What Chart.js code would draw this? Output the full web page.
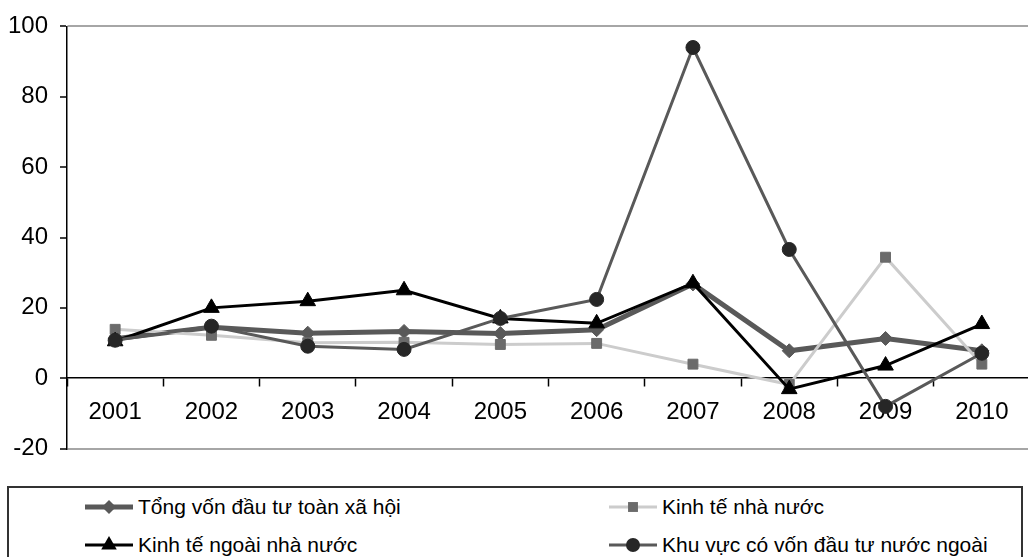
<!DOCTYPE html>
<html>
<head>
<meta charset="utf-8">
<script src="https://cdn.jsdelivr.net/npm/chart.js@4/dist/chart.umd.min.js"></script>
<style>
    html, body { margin: 0; padding: 0; background: #fff; overflow: hidden; }
    body { width: 1028px; height: 557px; position: relative; font-family: "Liberation Sans", Arial, sans-serif; }
    #wrap { position: absolute; left: 0; top: 0; width: 1040px; height: 475px; }
    #legend { position: absolute; left: 7px; top: 486px; width: 1016px; height: 100px; border: 2px solid #333; box-sizing: border-box; }
    .item { position: absolute; height: 24px; display: flex; align-items: center; font-size: 21px; color: #000; white-space: nowrap; }
    .item canvas { margin-right: 3px; }
</style>
</head>
<body>
<div id="wrap"><canvas id="lineChart"></canvas></div>
<div id="legend"></div>
<script>
// Tốc độ tăng vốn đầu tư (%), 2001-2010
const years = ["2001", "2002", "2003", "2004", "2005", "2006", "2007", "2008", "2009", "2010"];
const seriesNames = [
    "Tổng vốn đầu tư toàn xã hội",
    "Kinh tế nhà nước",
    "Kinh tế ngoài nhà nước",
    "Khu vực có vốn đầu tư nước ngoài",
];
const tongVon = [11.2, 14.5, 12.8, 13.3, 12.7, 13.8, 26.8, 7.8, 11.3, 7.8];
const nhaNuoc = [13.9, 12.2, 10.1, 10.2, 9.6, 9.9, 4.0, -1.8, 34.4, 4.0];
const ngoaiNhaNuoc = [10.5, 20.0, 21.9, 25.0, 17.0, 15.6, 27.0, -3.1, 3.6, 15.4];
const nuocNgoai = [10.8, 14.8, 9.1, 8.2, 17.0, 22.4, 94.0, 36.6, -8.0, 7.1];
const yTicks = { min: -20, max: 100, step: 20 };

document.addEventListener("DOMContentLoaded", function () {
    const ctx = document.getElementById("lineChart").getContext("2d");

    const styles = [
        { line: "#595959", width: 5, point: "#595959", pointStyle: "rectRot", radius: 7, order: 4 },
        { line: "#cccccc", width: 3, point: "#6b6b6b", pointStyle: "rect", radius: 7, order: 3 },
        { line: "#000000", width: 3, point: "#000000", pointStyle: "triangle", radius: 9, order: 2 },
        { line: "#595959", width: 3, point: "#262626", pointStyle: "circle", radius: 7, order: 1 },
    ];
    const values = [tongVon, nhaNuoc, ngoaiNhaNuoc, nuocNgoai];

    const datasets = values.map(function (data, i) {
        const s = styles[i];
        return {
            label: seriesNames[i],
            data: data,
            borderColor: s.line,
            borderWidth: s.width,
            backgroundColor: s.point,
            pointBackgroundColor: s.point,
            pointBorderColor: s.point,
            pointBorderWidth: 1,
            pointStyle: s.pointStyle,
            pointRadius: s.radius,
            pointHoverRadius: s.radius,
            tension: 0,
            order: s.order,
        };
    });

    const font = { family: "'Liberation Sans', Arial, sans-serif", size: 24 };

    new Chart(ctx, {
        type: "line",
        data: { labels: years, datasets: datasets },
        options: {
            responsive: true,
            maintainAspectRatio: false,
            animation: false,
            layout: { padding: { top: 25, bottom: 22, left: 0, right: 4 } },
            plugins: { legend: { display: false }, tooltip: { enabled: false } },
            scales: {
                x: {
                    position: { y: 0 },
                    offset: true,
                    grid: {
                        offset: true,
                        drawOnChartArea: false,
                        drawTicks: true,
                        tickLength: 8,
                        tickColor: "#000",
                        tickWidth: 1.5,
                    },
                    border: { display: true, color: "#000", width: 1.5 },
                    ticks: { color: "#000", font: font, padding: 12, maxRotation: 0, autoSkip: false },
                },
                y: {
                    min: yTicks.min,
                    max: yTicks.max,
                    afterFit: function (scale) { scale.width = 67; },
                    grid: {
                        drawTicks: true,
                        tickLength: 7,
                        tickColor: "#000",
                        tickWidth: 1.5,
                        color: function (c) {
                            const v = c.tick && c.tick.value;
                            return (v === yTicks.max || v === yTicks.min) ? "#a6a6a6" : "rgba(0,0,0,0)";
                        },
                        lineWidth: 2,
                    },
                    border: { display: true, color: "#000", width: 1.5 },
                    ticks: { stepSize: yTicks.step, color: "#000", font: font, padding: 12 },
                },
            },
        },
    });

    // legend in a box below the chart, two columns
    const legend = document.getElementById("legend");
    const spots = [
        { x: 74, y: 7 },
        { x: 598, y: 7 },
        { x: 74, y: 45 },
        { x: 598, y: 45 },
    ];
    seriesNames.forEach(function (name, i) {
        const s = styles[i];
        const item = document.createElement("div");
        item.className = "item";
        item.style.left = spots[i].x + "px";
        item.style.top = spots[i].y + "px";
        const c = document.createElement("canvas");
        c.width = 52;
        c.height = 24;
        const g = c.getContext("2d");
        g.strokeStyle = s.line;
        g.lineWidth = s.width;
        g.beginPath();
        g.moveTo(2, 12);
        g.lineTo(50, 12);
        g.stroke();
        g.fillStyle = s.point;
        const r = s.radius;
        g.beginPath();
        if (s.pointStyle === "rectRot") {
            g.moveTo(26, 12 - r); g.lineTo(26 + r, 12); g.lineTo(26, 12 + r); g.lineTo(26 - r, 12);
        } else if (s.pointStyle === "rect") {
            const h = r * Math.SQRT1_2;
            g.rect(26 - h, 12 - h, 2 * h, 2 * h);
        } else if (s.pointStyle === "triangle") {
            g.moveTo(26, 12 - r);
            g.lineTo(26 + r * 0.866, 12 + r * 0.5);
            g.lineTo(26 - r * 0.866, 12 + r * 0.5);
        } else {
            g.arc(26, 12, r, 0, Math.PI * 2);
        }
        g.closePath();
        g.fill();
        item.appendChild(c);
        const t = document.createElement("span");
        t.textContent = name;
        item.appendChild(t);
        legend.appendChild(item);
    });
});
</script>
</body>
</html>
